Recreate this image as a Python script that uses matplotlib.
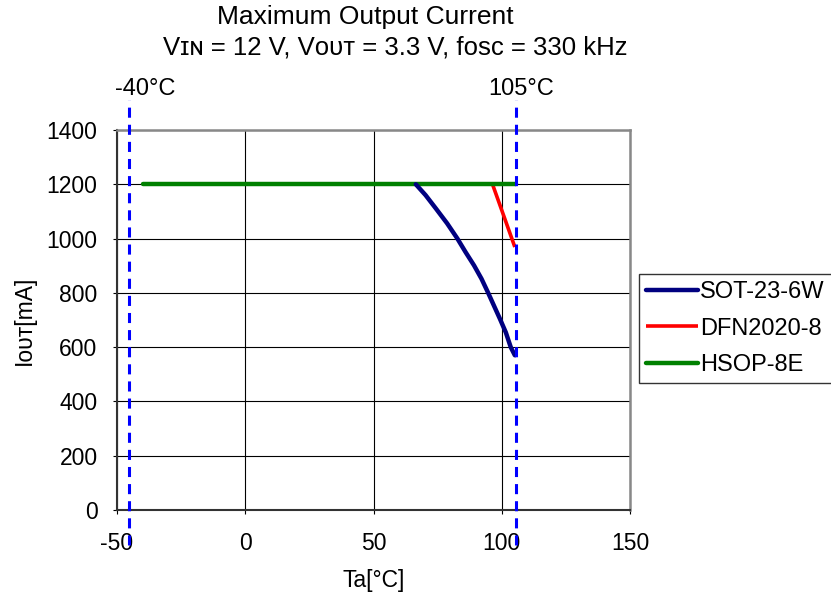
import matplotlib
matplotlib.use('Agg')
import matplotlib.pyplot as plt

plt.rcParams['font.family'] = ['Liberation Sans', 'DejaVu Sans']
plt.rcParams['axes.unicode_minus'] = False

sot_t = [66.5, 70.3, 74.3, 78.7, 82.7, 85.9, 89.2, 92.1, 94.7, 99.3, 101.6, 103.5, 105.1]
sot_i = [1200, 1160, 1111, 1056, 1000, 950, 901, 852, 800, 704, 654, 600, 570]
dfn_t = [96.4, 100.7, 105.1]
dfn_i = [1200, 1086, 969]
hsop_t = [-40, 105.5]
hsop_i = [1200, 1200]

limit_t = [-45.2, 105.6]
limit_labels = ['-40°C', '105°C']
limit_label_t = [-38.9, 107.4]

x_ticks = [-50, 0, 50, 100, 150]
y_ticks = [0, 200, 400, 600, 800, 1000, 1200, 1400]

# small capitals on the baseline, as in the source ("IN", "OUT")
sc_in = '\u026a\u0274'
sc_out = '\u1d0f\u1d1c\u1d1b'

fs = 16.5

fig = plt.figure(figsize=(8.31, 6.0), dpi=100)
ax = fig.add_axes([117 / 831, 1 - 510 / 600, (630 - 117) / 831, (510 - 130) / 600])

ax.plot(sot_t, sot_i, color='#000080', lw=3.2, label='SOT-23-6W', solid_capstyle='round',
        solid_joinstyle='round', zorder=4)
ax.plot(dfn_t, dfn_i, color='#ff0000', lw=2.6, label='DFN2020-8', solid_capstyle='butt', zorder=3)
ax.plot(hsop_t, hsop_i, color='#008000', lw=3.2, label='HSOP-8E', solid_capstyle='round', zorder=3)

for t in limit_t:
    ax.plot([t, t], [-130, 1510], color='#0000ff', lw=2.2, ls=(0, (3.3, 2.3)),
            clip_on=False, zorder=5)
for t, s in zip(limit_label_t, limit_labels):
    ax.text(t, 1550, s, ha='center', va='center', fontsize=17)

ax.set_xlim(-50, 150)
ax.set_ylim(0, 1400)
ax.set_xticks(x_ticks)
ax.set_yticks(y_ticks)
ax.grid(True, color='black', lw=0.8)
ax.set_axisbelow(True)
ax.tick_params(direction='out', length=3, width=0.8, labelsize=fs)
ax.tick_params(axis='x', pad=13)
ax.tick_params(axis='y', pad=11)

for side in ['top', 'right']:
    ax.spines[side].set_color('#888888')
    ax.spines[side].set_linewidth(1.8)
for side in ['left', 'bottom']:
    ax.spines[side].set_color('#333333')
    ax.spines[side].set_linewidth(1.5)

ax.set_xlabel('Ta[°C]', fontsize=fs, labelpad=10)
ax.set_ylabel('I' + sc_out + '[mA]', fontsize=fs, labelpad=8)

fig.text(365 / 831, 1 - 17 / 600, 'Maximum Output Current', ha='center', va='center', fontsize=19)
fig.text(395 / 831, 1 - 47 / 600,
         'V' + sc_in + ' = 12 V, V' + sc_out + ' = 3.3 V, fosc = 330 kHz',
         ha='center', va='center', fontsize=18.5)

leg = ax.legend(loc='upper left', bbox_to_anchor=(639 / 831, 1 - 274 / 600), bbox_transform=fig.transFigure,
                fontsize=17, frameon=True, fancybox=False, handlelength=2.2, handletextpad=0.1,
                labelspacing=0.62, borderaxespad=0, borderpad=0.3)
leg.get_frame().set_edgecolor('black')
leg.get_frame().set_linewidth(1.0)

fig.savefig('out.png', dpi=100)
